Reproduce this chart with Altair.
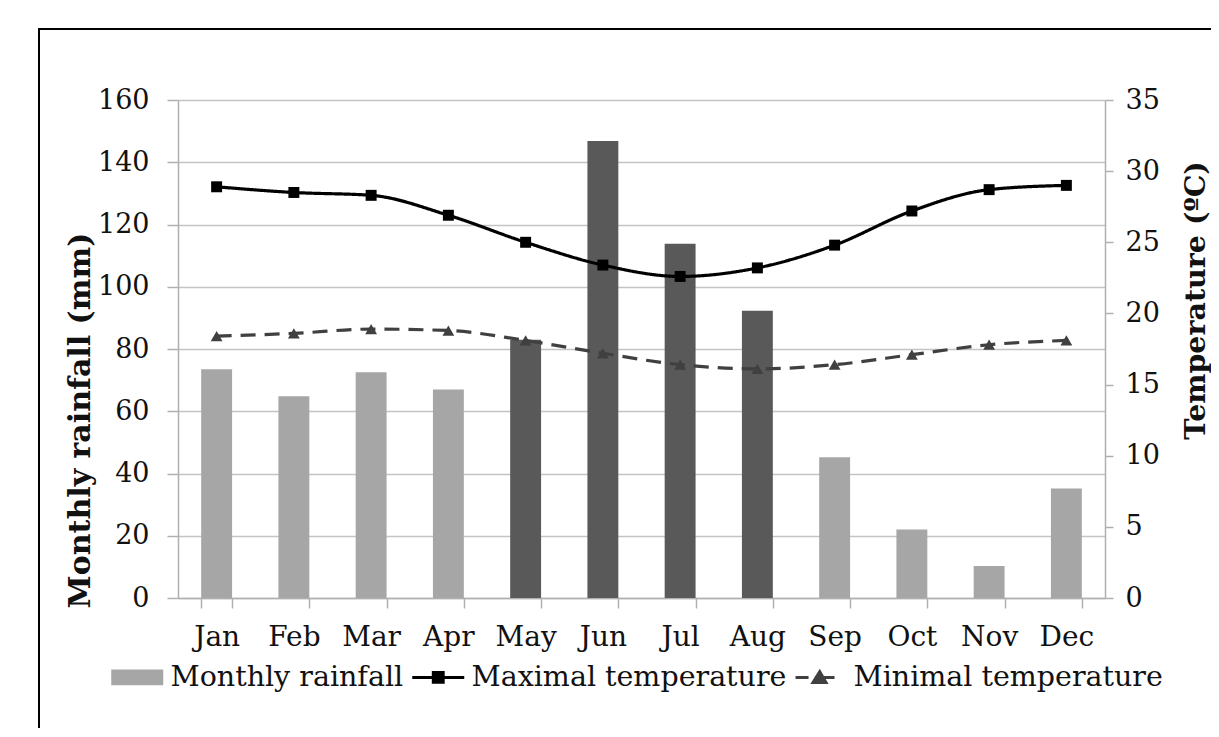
import altair as alt
import pandas as pd

months = ["Jan", "Feb", "Mar", "Apr", "May", "Jun", "Jul", "Aug", "Sep", "Oct", "Nov", "Dec"]
rainfall = [73.5, 64.8, 72.5, 67.0, 83.0, 146.8, 113.8, 92.3, 45.2, 22.0, 10.3, 35.2]
wet_months = ["May", "Jun", "Jul", "Aug"]
t_max = [28.9, 28.5, 28.3, 26.9, 25.0, 23.4, 22.6, 23.2, 24.8, 27.2, 28.7, 29.0]
t_min = [18.4, 18.6, 18.9, 18.8, 18.1, 17.2, 16.4, 16.1, 16.4, 17.1, 17.8, 18.1]
series_names = ["Monthly rainfall", "Maximal temperature", "Minimal temperature"]

FONT = "DejaVu Serif"
LIGHT = "#a6a6a6"
DARK = "#595959"
GRID = "#c4c4c4"

rain_df = pd.DataFrame({"month": months, "rain": rainfall})
temp_df = pd.DataFrame({
    "month": months * 2,
    "temp": t_max + t_min,
    "series": [series_names[1]] * 12 + [series_names[2]] * 12,
})

x_enc = alt.X(
    "month:N", sort=months, title=None,
    scale=alt.Scale(paddingInner=0.6, paddingOuter=0.3),
    axis=alt.Axis(labelAngle=0, labelFont=FONT, labelFontSize=28, labelColor="#111",
                  tickBand="extent", tickSize=10, tickColor="#b0b0b0", tickWidth=1.5,
                  domainColor="#b0b0b0", domainWidth=1.5, labelPadding=15, grid=False),
)

bars = alt.Chart(rain_df).mark_bar().encode(
    x=x_enc,
    y=alt.Y("rain:Q", scale=alt.Scale(domain=[0, 160]),
            title="Monthly rainfall (mm)",
            axis=alt.Axis(values=list(range(0, 161, 20)), labelFont=FONT, labelFontSize=27,
                          labelColor="#111", tickSize=11, tickColor="#b0b0b0", tickWidth=1.5,
                          domainColor="#b0b0b0", domainWidth=1.5, labelPadding=18,
                          gridColor=GRID, gridWidth=1.5,
                          titleFont=FONT, titleFontSize=30, titleFontWeight="bold",
                          titleColor="#111", titleAngle=270, titleX=-98, titleY=320,
                          titleAlign="center", titleBaseline="middle")),
    color=alt.condition(alt.FieldOneOfPredicate(field="month", oneOf=wet_months),
                        alt.value(DARK), alt.value(LIGHT)),
)

color_scale = alt.Scale(domain=series_names, range=[LIGHT, "#000000", "#404040"])

shape_expr = ("datum.value === 'Monthly rainfall' ? 'M-1,-0.3H1V0.3H-1Z' : "
              "(datum.value === 'Maximal temperature' ? 'M-1,0H1M-0.19,-0.19H0.19V0.19H-0.19Z' : "
              "'M-0.95,0H-0.45M-0.2,0H0.55M-0.28,0.2L-0.02,-0.22L0.22,0.2Z')")

legend = alt.Legend(
    title=None, orient="none", legendX=-55, legendY=563, direction="horizontal",
    columns=3, padding=0, symbolSize=2704, labelFont=FONT, labelFontSize=28.5,
    labelColor="#111", labelOffset=19, columnPadding=2, labelLimit=500,
    symbolType=alt.ExprRef(expr=shape_expr),
    symbolFillColor=alt.ExprRef(expr="scale('color', datum.value)"),
    symbolStrokeColor=alt.ExprRef(expr="scale('color', datum.value)"),
    symbolStrokeWidth=alt.ExprRef(expr="datum.value === 'Monthly rainfall' ? 0 : 3"),
    symbolOpacity=1,
)

y_temp = alt.Y("temp:Q", scale=alt.Scale(domain=[0, 35]), title="Temperature (ºC)",
               axis=alt.Axis(orient="right", values=list(range(0, 36, 5)), labelFont=FONT,
                             labelFontSize=27, labelColor="#111", tickSize=8,
                             tickColor="#b0b0b0", tickWidth=1.5, domainColor="#b0b0b0",
                             domainWidth=1.5, labelPadding=12, grid=False,
                             titleFont=FONT, titleFontSize=28.5, titleFontWeight="bold",
                             titleColor="#111", titleAngle=270, titleX=90, titleY=200,
                             titleAlign="center", titleBaseline="middle"))

lines = alt.Chart(temp_df).mark_line(interpolate="monotone", strokeWidth=3.2).encode(
    x=alt.X("month:N", sort=months),
    y=y_temp,
    color=alt.Color("series:N", scale=color_scale, legend=legend),
    strokeDash=alt.StrokeDash("series:N", scale=alt.Scale(domain=series_names[1:], range=[[1, 0], [15, 9]]), legend=None),
)

points = alt.Chart(temp_df).mark_point(filled=True, opacity=1).encode(
    x=alt.X("month:N", sort=months),
    y=alt.Y("temp:Q"),
    color=alt.Color("series:N", scale=color_scale, legend=legend),
    shape=alt.Shape("series:N", scale=alt.Scale(domain=series_names[1:], range=["square", "triangle-up"]), legend=None),
    size=alt.Size("series:N", scale=alt.Scale(domain=series_names[1:], range=[120, 140]), legend=None),
)

frame = alt.Chart(pd.DataFrame({"a": [0]})).mark_rect(fill=None, stroke="#000", strokeWidth=2).encode(
    x=alt.value(-139), x2=alt.value(1200), y=alt.value(-71), y2=alt.value(700)
)

temps = alt.layer(lines, points)

chart = alt.layer(bars, temps, frame).resolve_scale(y="independent").properties(
    width=927, height=498,
    autosize=alt.AutoSizeParams(type="none"),
    padding={"left": 170, "top": 92, "right": 106, "bottom": 130},
).configure_view(strokeWidth=0).configure(background="white")

chart.save("out.html", embed_options={"renderer": "svg", "actions": False})
